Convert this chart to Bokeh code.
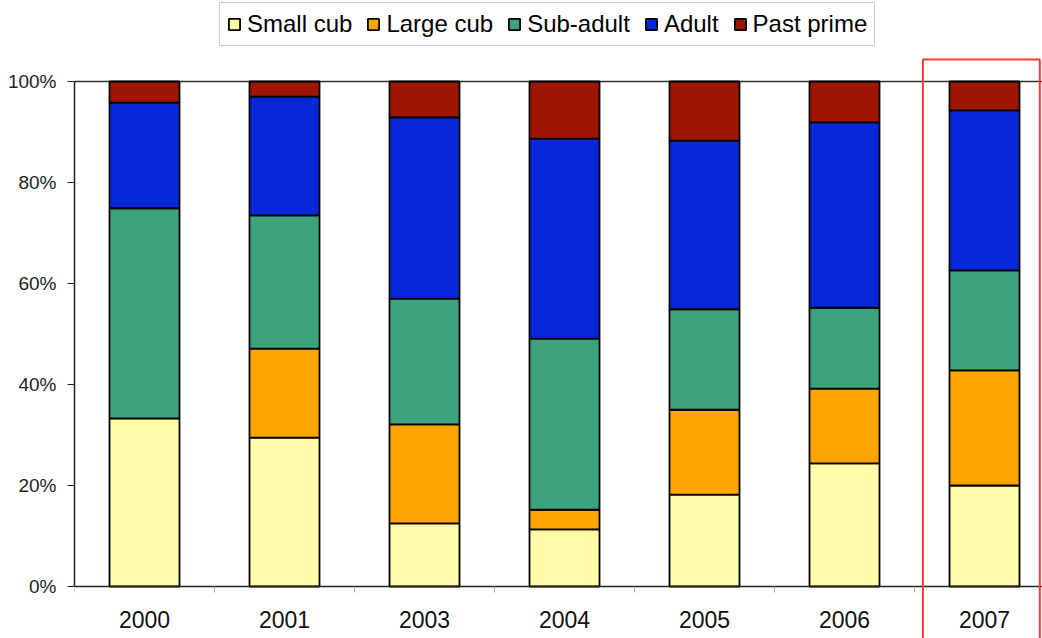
from bokeh.plotting import figure
from bokeh.models import (Range1d, FixedTicker, PrintfTickFormatter, Legend,
                          LegendItem, BoxAnnotation, ColumnDataSource)
from bokeh.embed import file_html
from bokeh.resources import INLINE

years = ["2000", "2001", "2003", "2004", "2005", "2006", "2007"]
small_cub = [33.3, 29.5, 12.5, 11.3, 18.2, 24.4, 20.0]
large_cub = [0.0, 17.6, 19.6, 3.9, 16.8, 14.8, 22.8]
sub_adult = [41.6, 26.4, 24.9, 33.9, 19.9, 16.0, 19.8]
adult = [20.9, 23.5, 35.9, 39.6, 33.4, 36.7, 31.7]
past_prime = [4.2, 3.0, 7.1, 11.3, 11.7, 8.1, 5.7]

stages = ["Small cub", "Large cub", "Sub-adult", "Adult", "Past prime"]
series = [small_cub, large_cub, sub_adult, adult, past_prime]
colors = ["#FFFBA6", "#FFA500", "#3CA37A", "#0628D8", "#9E1500"]
y_ticks = [0, 20, 40, 60, 80, 100]
highlight_year = "2007"

FONT = "Liberation Sans"
W, H = 1042, 638
LEFT = 74          # px left of plot area
TOP_PX = 81        # canvas y of 100%
ZERO_PX = 586      # canvas y of 0%
CAT_PX = 140       # px per category

px_per_pct = (ZERO_PX - TOP_PX) / 100.0
y_hi = 100 + TOP_PX / px_per_pct
y_lo = -(H - ZERO_PX) / px_per_pct

centers = [i + 0.5 for i in range(len(years))]
frame_w = W - LEFT

p = figure(width=W, height=H, output_backend="svg", toolbar_location=None,
           x_range=Range1d(0, frame_w / CAT_PX), y_range=Range1d(y_lo, y_hi),
           min_border_left=LEFT, min_border_right=0, min_border_top=0,
           min_border_bottom=0)
p.outline_line_color = None
p.background_fill_color = "white"
p.border_fill_color = "white"

bottoms = [0.0] * len(years)
items = []
for name, vals, col in zip(stages, series, colors):
    tops = [b + v for b, v in zip(bottoms, vals)]
    src = ColumnDataSource(dict(x=centers, bottom=list(bottoms), top=tops))
    r = p.vbar(x="x", bottom="bottom", top="top", width=0.5, source=src,
               fill_color=col, line_color="black", line_width=1.8)
    items.append(LegendItem(label=name, renderers=[r]))
    bottoms = tops

# grid: only a top line at 100%
p.xgrid.visible = False
p.ygrid.ticker = FixedTicker(ticks=[100])
p.ygrid.grid_line_color = "#333333"
p.ygrid.grid_line_width = 1.5

# x axis, pinned at 0%
xa = p.xaxis[0]
xa.fixed_location = 0
xa.ticker = FixedTicker(ticks=centers, minor_ticks=list(range(len(years) + 1)))
xa.major_label_overrides = {c: y for c, y in zip(centers, years)}
xa.major_tick_line_color = None
xa.major_tick_out = 0
xa.major_tick_in = 0
xa.minor_tick_line_color = "#AAAAAA"
xa.minor_tick_out = 6
xa.minor_tick_in = 0
xa.axis_line_color = "#222222"
xa.axis_line_width = 1.5
xa.major_label_text_font = FONT
xa.major_label_text_font_size = "23px"
xa.major_label_text_color = "#111111"
xa.major_label_standoff = 18

# y axis, limited to 0-100%
ya = p.yaxis[0]
ya.bounds = (0, 100)
ya.ticker = FixedTicker(ticks=y_ticks)
ya.formatter = PrintfTickFormatter(format="%d%%")
ya.major_tick_out = 7
ya.major_tick_in = 0
ya.major_tick_line_color = "#222222"
ya.minor_tick_line_color = None
ya.axis_line_color = "#222222"
ya.axis_line_width = 1.5
ya.major_label_text_font = FONT
ya.major_label_text_font_size = "19px"
ya.major_label_text_color = "#222222"
ya.major_label_standoff = 11

legend = Legend(items=items, orientation="horizontal", location=(145, 592),
                glyph_width=14, glyph_height=14, label_standoff=6, spacing=14,
                padding=7, margin=0, label_text_font=FONT,
                label_text_font_size="24px", label_text_color="#000000",
                border_line_color="#999999", border_line_width=1.5,
                background_fill_color="white", background_fill_alpha=1.0)
p.add_layout(legend)

hi = centers[years.index(highlight_year)]
box = BoxAnnotation(left=hi - 0.44, right=hi + 0.395, bottom=y_lo - 5,
                    top=100 + 22 / px_per_pct,
                    fill_color=None, fill_alpha=0, line_color="#FF3B30",
                    line_alpha=1.0, line_width=2)
p.add_layout(box)

open("out.html", "w").write(file_html(p, INLINE))
